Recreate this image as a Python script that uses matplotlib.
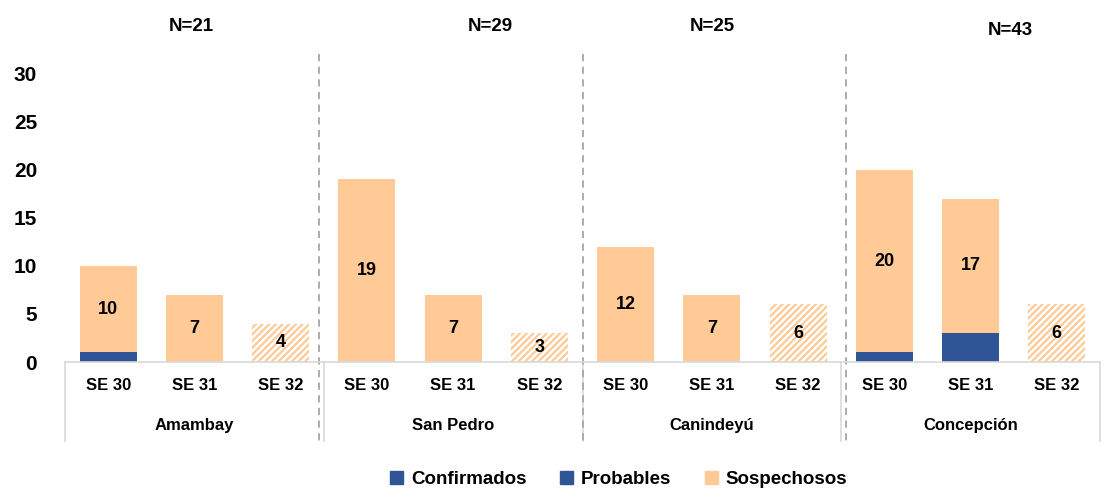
import numpy as np
import matplotlib.pyplot as plt
from matplotlib.patches import Patch

# weekly cases by department
departments = ["Amambay", "San Pedro", "Canindeyú", "Concepción"]
weeks = ["SE 30", "SE 31", "SE 32"]
n_labels = ["N=21", "N=29", "N=25", "N=43"]
confirmados = np.array([0, 0, 0, 0, 0, 0, 0, 0, 0, 0, 0, 0])
probables = np.array([1, 0, 0, 0, 0, 0, 0, 0, 0, 1, 3, 0])
sospechosos = np.array([9, 7, 4, 19, 7, 3, 12, 7, 6, 19, 14, 6])
hatched = [False, False, True] * 4

blue = "#2F5597"
peach = "#FFCA95"

plt.rcParams['font.family'] = ['Liberation Sans', 'DejaVu Sans']
plt.rcParams['font.weight'] = 'bold'
plt.rcParams['hatch.linewidth'] = 1.6
plt.rcParams['hatch.color'] = peach

fig = plt.figure(figsize=(11.05, 4.92), dpi=100)
ax = fig.add_axes([65/1105, 130/492, 1035/1105, 317/492])

x = np.arange(len(sospechosos))
w = 0.66
ax.bar(x, confirmados, w, color=blue)
ax.bar(x, probables, w, bottom=confirmados, color=blue)
base = confirmados + probables
for i in x:
    if hatched[i]:
        ax.bar(i, sospechosos[i], w, bottom=base[i], facecolor="white",
               edgecolor=peach, hatch="/////", linewidth=0)
    else:
        ax.bar(i, sospechosos[i], w, bottom=base[i], color=peach)
    total = base[i] + sospechosos[i]
    ax.text(i, base[i] + sospechosos[i] / 2, str(total), ha="center",
            va="center", fontsize=13, fontweight="bold")

ax.set_xlim(-0.5, len(x) - 0.5)
ax.set_ylim(0, 33)
ax.set_yticks([0, 5, 10, 15, 20, 25, 30])
ax.tick_params(axis="y", length=0, labelsize=15, pad=20)
ax.set_xticks([])
for s in ["top", "right", "left"]:
    ax.spines[s].set_visible(False)
ax.spines["bottom"].set_color("#D9D9D9")
ax.spines["bottom"].set_linewidth(1.2)

# category table under the axis
for i in x:
    ax.text(i, -2.4, weeks[i % 3], ha="center", va="center", fontsize=12,
            fontweight="bold", clip_on=False)
for g, name in enumerate(departments):
    ax.text(g * 3 + 1, -6.6, name, ha="center", va="center", fontsize=12,
            fontweight="bold", clip_on=False)
for b in [-0.5, 2.5, 5.5, 8.5, 11.5]:
    ax.plot([b, b], [0, -8.2], color="#D9D9D9", lw=1.2, clip_on=False)

# dashed separators
for b in [2.45, 5.5, 8.55]:
    ax.plot([b, b], [32.1, -8.2], color="#A6A6A6", lw=1.3,
            linestyle=(0, (4, 3)), clip_on=False)

# N labels
n_x = [0.97, 4.43, 7.0, 10.46]
n_y = [34.9, 34.9, 34.9, 34.5]
for xx, yy, t in zip(n_x, n_y, n_labels):
    ax.text(xx, yy, t, ha="center", va="center", fontsize=13.5,
            fontweight="bold", clip_on=False)

handles = [Patch(color=blue), Patch(color=blue), Patch(color=peach)]
fig.legend(handles, ["Confirmados", "Probables", "Sospechosos"],
           loc="center", bbox_to_anchor=(0.56, 0.025), ncol=3, frameon=False,
           fontsize=13.5, handlelength=0.7, handleheight=0.7,
           columnspacing=1.8, handletextpad=0.4)

plt.savefig("out.png", dpi=100)
